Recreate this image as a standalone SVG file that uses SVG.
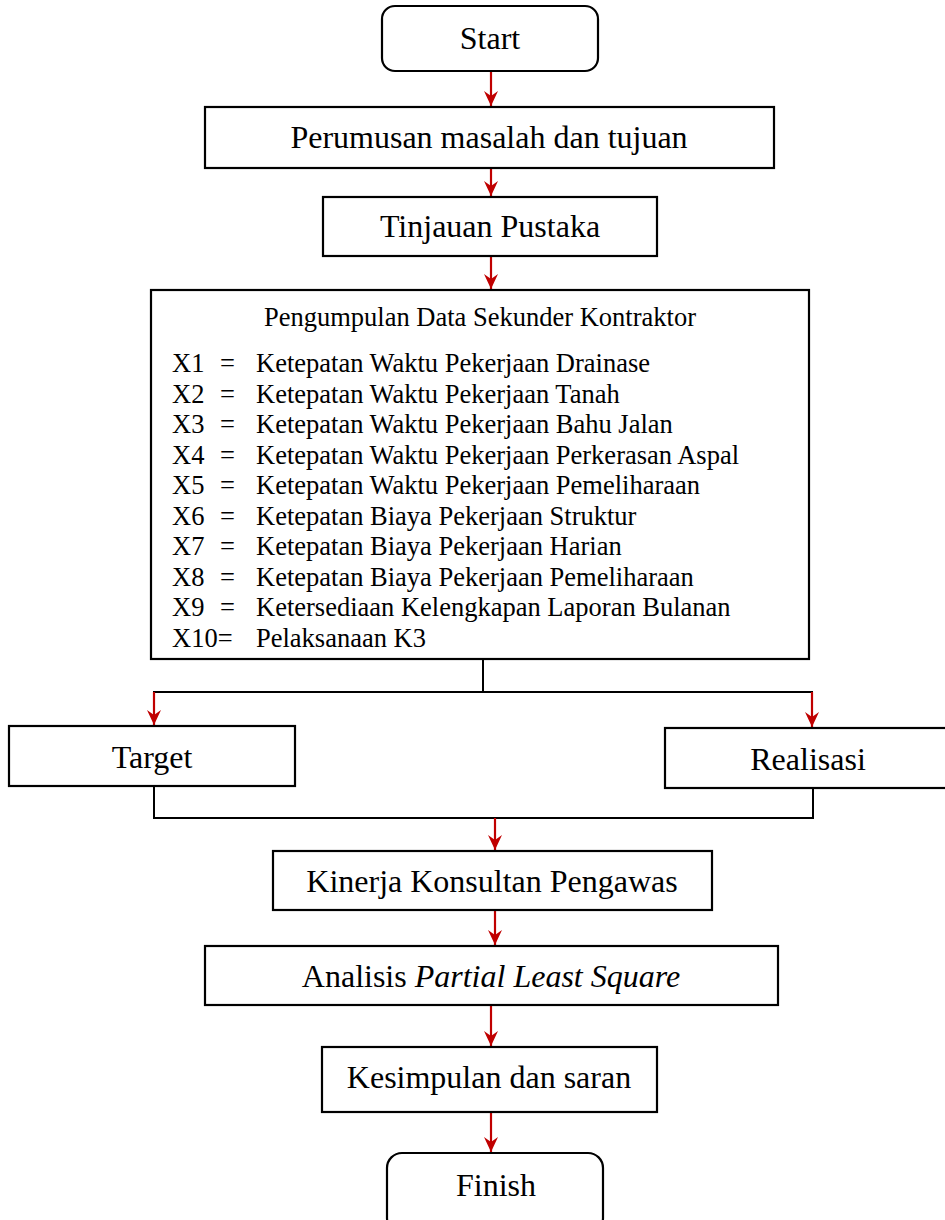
<svg xmlns="http://www.w3.org/2000/svg" width="945" height="1220" viewBox="0 0 945 1220">
<style>
.box{fill:#fff;stroke:#000;stroke-width:2.2}
.lbl{font-family:"Liberation Serif","Times New Roman",serif;font-size:32px;fill:#000;text-anchor:middle}
.sm{font-family:"Liberation Serif","Times New Roman",serif;font-size:26.5px;fill:#000}
.blk{stroke:#000;stroke-width:2;fill:none}
.red{stroke:#C00000;stroke-width:2.2;fill:none;marker-end:url(#ah)}
</style>
<defs>
<marker id="ah" markerUnits="userSpaceOnUse" markerWidth="18" markerHeight="16" viewBox="-16 -8 18 16" refX="0" refY="0" orient="auto">
<path d="M0,0 L-15,-7 L-10,0 L-15,7 Z" fill="#C00000"/>
</marker>
</defs>
<rect width="945" height="1220" fill="#fff"/>
<g id="connectors">
<line class="red" x1="491" y1="71" x2="491" y2="106"/>
<line class="red" x1="491" y1="168" x2="491" y2="196"/>
<line class="red" x1="491" y1="256" x2="491" y2="289"/>
<polyline class="blk" points="483,659 483,692"/>
<line class="blk" x1="153" y1="692" x2="813" y2="692"/>
<line class="red" x1="154" y1="692" x2="154" y2="725"/>
<line class="red" x1="812" y1="692" x2="812" y2="727"/>
<polyline class="blk" points="154,786 154,818 813,818 813,788"/>
<line class="red" x1="495" y1="818" x2="495" y2="850"/>
<line class="red" x1="495" y1="910" x2="495" y2="945"/>
<line class="red" x1="491" y1="1005" x2="491" y2="1046"/>
<line class="red" x1="491" y1="1112" x2="491" y2="1152"/>
</g>
<g id="start">
<rect class="box" x="382" y="6" width="216" height="65" rx="13"/>
<text class="lbl" x="490" y="49">Start</text>
</g>
<g id="perumusan">
<rect class="box" x="205" y="107" width="569" height="61"/>
<text class="lbl" x="489" y="148">Perumusan masalah dan tujuan</text>
</g>
<g id="tinjauan">
<rect class="box" x="323" y="197" width="334" height="59"/>
<text class="lbl" x="490" y="237">Tinjauan Pustaka</text>
</g>
<g id="pengumpulan">
<rect class="box" x="151" y="290" width="658" height="369"/>
<text class="sm" x="480" y="326" text-anchor="middle">Pengumpulan Data Sekunder Kontraktor</text>
<g class="sm">
<text x="172" y="372">X1</text><text x="220" y="372">=</text><text x="256" y="372">Ketepatan Waktu Pekerjaan Drainase</text>
<text x="172" y="402.5">X2</text><text x="220" y="402.5">=</text><text x="256" y="402.5">Ketepatan Waktu Pekerjaan Tanah</text>
<text x="172" y="433">X3</text><text x="220" y="433">=</text><text x="256" y="433">Ketepatan Waktu Pekerjaan Bahu Jalan</text>
<text x="172" y="463.5">X4</text><text x="220" y="463.5">=</text><text x="256" y="463.5">Ketepatan Waktu Pekerjaan Perkerasan Aspal</text>
<text x="172" y="494">X5</text><text x="220" y="494">=</text><text x="256" y="494">Ketepatan Waktu Pekerjaan Pemeliharaan</text>
<text x="172" y="524.5">X6</text><text x="220" y="524.5">=</text><text x="256" y="524.5">Ketepatan Biaya Pekerjaan Struktur</text>
<text x="172" y="555">X7</text><text x="220" y="555">=</text><text x="256" y="555">Ketepatan Biaya Pekerjaan Harian</text>
<text x="172" y="585.5">X8</text><text x="220" y="585.5">=</text><text x="256" y="585.5">Ketepatan Biaya Pekerjaan Pemeliharaan</text>
<text x="172" y="616">X9</text><text x="220" y="616">=</text><text x="256" y="616">Ketersediaan Kelengkapan Laporan Bulanan</text>
<text x="172" y="646.5">X10=</text><text x="256" y="646.5">Pelaksanaan K3</text>
</g>
</g>
<g id="target">
<rect class="box" x="9" y="726" width="286" height="60"/>
<text class="lbl" x="152" y="768">Target</text>
</g>
<g id="realisasi">
<rect class="box" x="665" y="728" width="290" height="60"/>
<text class="lbl" x="808" y="770">Realisasi</text>
</g>
<g id="kinerja">
<rect class="box" x="273" y="851" width="439" height="59"/>
<text class="lbl" x="492" y="892">Kinerja Konsultan Pengawas</text>
</g>
<g id="analisis">
<rect class="box" x="205" y="946" width="573" height="59"/>
<text class="lbl" x="491" y="987">Analisis <tspan font-style="italic">Partial Least Square</tspan></text>
</g>
<g id="kesimpulan">
<rect class="box" x="322" y="1047" width="335" height="65"/>
<text class="lbl" x="489" y="1088">Kesimpulan dan saran</text>
</g>
<g id="finish">
<rect class="box" x="387" y="1153" width="216" height="80" rx="15"/>
<text class="lbl" x="496" y="1196">Finish</text>
</g>
</svg>
